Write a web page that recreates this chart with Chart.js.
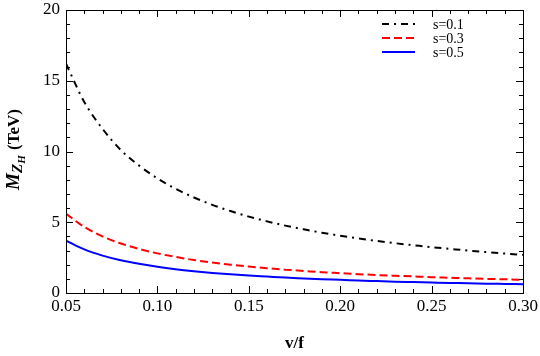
<!DOCTYPE html>
<html lang="en">
<head>
<meta charset="UTF-8">
<title>M_ZH vs v/f</title>
<script src="https://cdn.jsdelivr.net/npm/chart.js"></script>
<style>
  html, body { margin: 0; padding: 0; background: #fff; }
  #wrap { width: 540px; height: 356px; }
</style>
</head>
<body>
<div id="wrap"><canvas id="myChart" width="540" height="356"></canvas></div>
<script>
  // v/f values and M_ZH (TeV)
  const vf = [0.05, 0.06, 0.07, 0.08, 0.09, 0.10, 0.11, 0.12, 0.13, 0.14, 0.15, 0.16, 0.17,
              0.18, 0.19, 0.20, 0.21, 0.22, 0.23, 0.24, 0.25, 0.26, 0.27, 0.28, 0.29, 0.30];
  const s01 = [16.2, 13.5, 11.6, 10.1, 9.0, 8.1, 7.36, 6.75, 6.23, 5.79, 5.40, 5.06, 4.76,
               4.50, 4.26, 4.05, 3.86, 3.68, 3.52, 3.38, 3.24, 3.12, 3.00, 2.89, 2.79, 2.70];
  const s03 = [5.6, 4.67, 4.0, 3.5, 3.11, 2.8, 2.55, 2.33, 2.15, 2.0, 1.87, 1.75, 1.65,
               1.56, 1.47, 1.4, 1.33, 1.27, 1.22, 1.17, 1.12, 1.08, 1.04, 1.0, 0.97, 0.93];
  const s05 = [3.7, 3.08, 2.64, 2.31, 2.06, 1.85, 1.68, 1.54, 1.42, 1.32, 1.23, 1.16, 1.09,
               1.03, 0.97, 0.93, 0.88, 0.84, 0.80, 0.77, 0.74, 0.71, 0.69, 0.66, 0.64, 0.62];
  const seriesLabels = ['s=0.1', 's=0.3', 's=0.5'];
  const xTitle = 'v/f';

  const serif = "'Liberation Serif', 'DejaVu Serif', serif";

  function pts(ys) {
    return vf.map((x, i) => ({ x: x, y: ys[i] }));
  }

  // frame, inward ticks, legend and y title
  const decor = {
    id: 'decor',
    afterDraw(chart) {
      const c = chart.ctx;
      const a = chart.chartArea;
      const xs = chart.scales.x, ys = chart.scales.y;
      c.save();
      c.strokeStyle = '#000';
      c.lineWidth = 1;
      c.strokeRect(Math.round(a.left) + 0.5, Math.round(a.top) + 0.5,
                   Math.round(a.right - a.left), Math.round(a.bottom - a.top));
      c.beginPath();
      for (let k = 5; k <= 30; k++) {
        const px = Math.round(xs.getPixelForValue(k / 100)) + 0.5;
        const len = (k % 5 === 0) ? 7 : 4;
        c.moveTo(px, a.bottom); c.lineTo(px, a.bottom - len);
        c.moveTo(px, a.top); c.lineTo(px, a.top + len);
      }
      for (let k = 0; k <= 20; k++) {
        const py = Math.round(ys.getPixelForValue(k)) + 0.5;
        const len = (k % 5 === 0) ? 7 : 4;
        c.moveTo(a.left, py); c.lineTo(a.left + len, py);
        c.moveTo(a.right, py); c.lineTo(a.right - len, py);
      }
      c.stroke();

      // legend
      c.font = '14px ' + serif;
      c.textBaseline = 'middle';
      c.textAlign = 'left';
      chart.data.datasets.forEach((ds, i) => {
        const y = 24 + i * 14;
        c.beginPath();
        c.strokeStyle = ds.borderColor;
        c.lineWidth = 2;
        c.setLineDash(ds.borderDash || []);
        c.moveTo(382, y); c.lineTo(415, y);
        c.stroke();
        c.setLineDash([]);
        c.fillStyle = '#000';
        c.fillText(ds.label, 433, y + 1);
      });

      // y title: M_{Z_H} (TeV)
      c.translate(13, 150);
      c.rotate(-Math.PI / 2);
      c.fillStyle = '#000';
      c.textBaseline = 'alphabetic';
      const fM = 'italic bold 19px ' + serif;
      const fZ = 'italic bold 15px ' + serif;
      const fH = 'italic bold 11px ' + serif;
      const fT = 'bold 17px ' + serif;
      c.font = fM; const wM = c.measureText('M').width;
      c.font = fZ; const wZ = c.measureText('Z').width;
      c.font = fH; const wH = c.measureText('H').width;
      c.font = fT; const wT = c.measureText(' (TeV)').width;
      let x = -(wM + wZ + wH + wT) / 2;
      const base = 6;
      c.font = fM; c.fillText('M', x, base); x += wM;
      c.font = fZ; c.fillText('Z', x, base + 3); x += wZ;
      c.font = fH; c.fillText('H', x, base + 6); x += wH + 1;
      c.font = fT; c.fillText(' (TeV)', x, base);
      c.restore();
    }
  };

  const ctx = document.getElementById('myChart').getContext('2d');
  const chart = new Chart(ctx, {
    type: 'line',
    data: {
      datasets: [
        { label: seriesLabels[0], data: pts(s01), borderColor: '#000000', borderDash: [7, 5, 2, 5] },
        { label: seriesLabels[1], data: pts(s03), borderColor: '#ff0000', borderDash: [8, 4] },
        { label: seriesLabels[2], data: pts(s05), borderColor: '#0000ff' }
      ]
    },
    options: {
      responsive: false,
      animation: false,
      devicePixelRatio: 1,
      datasets: {
        line: { borderWidth: 2, pointRadius: 0, fill: false, cubicInterpolationMode: 'monotone' }
      },
      layout: { padding: { top: 10, right: 17, left: 0, bottom: 0 } },
      plugins: { legend: { display: false }, tooltip: { enabled: false } },
      scales: {
        x: {
          type: 'linear', min: 0.05, max: 0.30,
          grid: { display: false, drawTicks: false }, border: { display: false },
          ticks: {
            stepSize: 0.05, padding: 3, color: '#000',
            font: { family: serif, size: 17 },
            callback: v => Number(v).toFixed(2)
          },
          title: {
            display: true, text: xTitle, color: '#000',
            font: { family: serif, size: 17, weight: 'bold' },
            padding: { top: 18, bottom: 2 }
          },
          afterFit(s) { s.height = 63; s.paddingLeft = 0; s.paddingRight = 0; }
        },
        y: {
          min: 0, max: 20,
          grid: { display: false, drawTicks: false }, border: { display: false },
          ticks: {
            stepSize: 5, padding: 6, color: '#000',
            font: { family: serif, size: 17 }
          },
          afterFit(s) { s.width = 66; s.paddingTop = 0; s.paddingBottom = 0; }
        }
      }
    },
    plugins: [decor]
  });
</script>
</body>
</html>
